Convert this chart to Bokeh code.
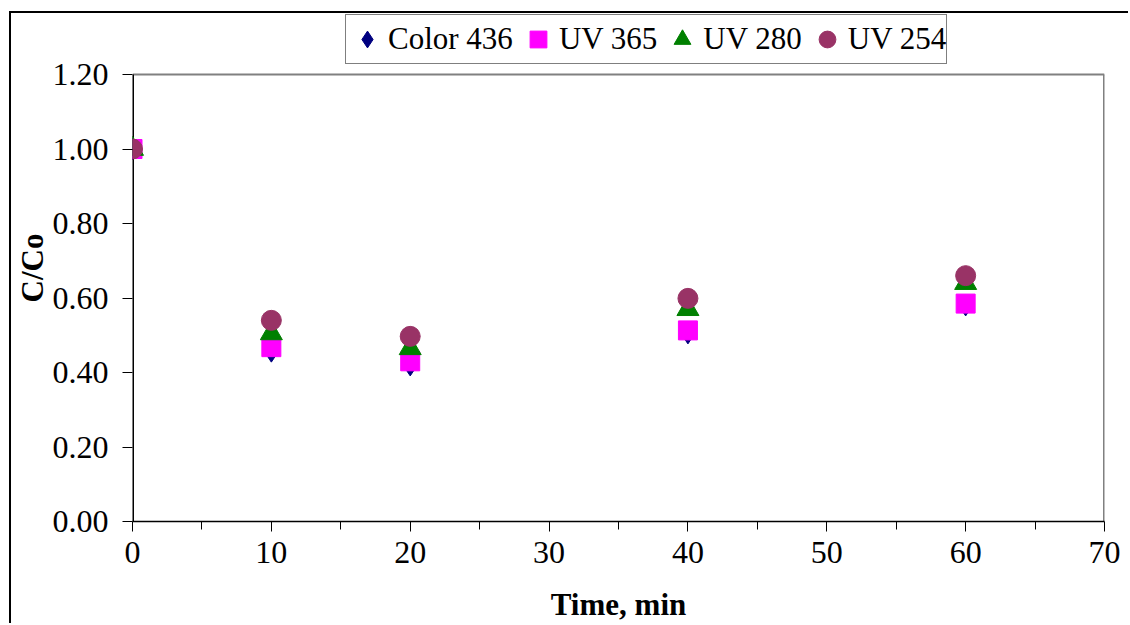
from bokeh.plotting import figure
from bokeh.models import Legend, LegendItem, FixedTicker, Range1d, NumeralTickFormatter
from bokeh.embed import file_html
from bokeh.resources import INLINE

time_min = [0, 10, 20, 40, 60]
color_436 = [1.00, 0.456, 0.419, 0.505, 0.58]
uv_365 = [1.00, 0.468, 0.43, 0.513, 0.585]
uv_280 = [1.00, 0.505, 0.465, 0.57, 0.64]
uv_254 = [1.00, 0.54, 0.497, 0.599, 0.66]
series_names = ["Color 436", "UV 365", "UV 280", "UV 254"]

x_ticks = [0, 10, 20, 30, 40, 50, 60, 70]
x_minor = [5, 15, 25, 35, 45, 55, 65]
y_ticks = [0.0, 0.2, 0.4, 0.6, 0.8, 1.0, 1.2]

FONT = "Liberation Serif"

# layout (pixels)
PLOT_H = 447      # height of the visible plot area (0 .. 1.2)
EXTRA_TOP = 60    # strip above the plot area that holds the legend
x_max = x_ticks[-1]
y_max = y_ticks[-1]
y_top = y_max * (PLOT_H + EXTRA_TOP) / PLOT_H

styles = [
    dict(marker="diamond", size=21, fill_color="#000080", line_color="#000080"),
    dict(marker="square", size=19, fill_color="#FF00FF", line_color="#FF00FF"),
    dict(marker="triangle", size=22, fill_color="#008000", line_color="#008000"),
    dict(marker="circle", size=20, fill_color="#993366", line_color="#993366"),
]

p = figure(width=1119, height=612, output_backend="svg", toolbar_location=None,
           x_range=Range1d(0, x_max), y_range=Range1d(0, y_top),
           min_border_left=121, min_border_right=26, min_border_top=1,
           min_border_bottom=104)
p.margin = (11, 0, 0, 9)
p.styles = {"border-top": "2px solid black", "border-left": "2px solid black"}

p.xgrid.visible = False
p.ygrid.visible = False
p.outline_line_color = None
p.background_fill_color = "white"
p.border_fill_color = "white"

# plot-area border: gray top and right, black left axis line
p.segment(x0=[0], y0=[y_max], x1=[x_max], y1=[y_max], line_color="#808080", line_width=2)
p.segment(x0=[x_max], y0=[0], x1=[x_max], y1=[y_max], line_color="#808080", line_width=3)
p.segment(x0=[0], y0=[0], x1=[0], y1=[y_max], line_color="black", line_width=3)

xa = p.xaxis[0]
xa.ticker = FixedTicker(ticks=x_ticks, minor_ticks=x_minor)
xa.axis_label = "Time, min"
xa.axis_label_text_font = FONT
xa.axis_label_text_font_style = "bold"
xa.axis_label_text_font_size = "31px"
xa.axis_label_text_color = "black"
xa.axis_label_standoff = 21
xa.major_label_text_font = FONT
xa.major_label_text_font_size = "32px"
xa.major_label_text_color = "black"
xa.major_label_standoff = 10
xa.major_tick_out = 10
xa.major_tick_in = 0
xa.minor_tick_out = 8
xa.minor_tick_in = 0
xa.axis_line_color = "black"
xa.axis_line_width = 1.5
xa.major_tick_line_color = "black"
xa.minor_tick_line_color = "black"

ya = p.yaxis[0]
ya.ticker = FixedTicker(ticks=y_ticks, minor_ticks=[])
ya.formatter = NumeralTickFormatter(format="0.00")
ya.axis_label = "C/Co"
ya.axis_label_text_font = FONT
ya.axis_label_text_font_style = "bold"
ya.axis_label_text_font_size = "31px"
ya.axis_label_text_color = "black"
ya.axis_label_standoff = 0
ya.major_label_text_font = FONT
ya.major_label_text_font_size = "32px"
ya.major_label_text_color = "black"
ya.major_label_standoff = 14
ya.major_tick_out = 10
ya.major_tick_in = 0
ya.axis_line_color = None
ya.major_tick_line_color = "black"

renderers = [p.scatter(time_min, ys, **st)
             for ys, st in zip([color_436, uv_365, uv_280, uv_254], styles)]

legend = Legend(items=[LegendItem(label=n, renderers=[r]) for n, r in zip(series_names, renderers)],
                location=(213, 457), orientation="horizontal")
legend.label_text_font = FONT
legend.label_text_font_size = "31px"
legend.label_text_color = "black"
legend.glyph_width = 42
legend.glyph_height = 48
legend.label_standoff = 0
legend.spacing = 4
legend.padding = 0
legend.margin = 0
legend.border_line_color = "black"
legend.border_line_width = 1
legend.background_fill_color = "white"
legend.background_fill_alpha = 1
p.add_layout(legend, "center")

open("out.html", "w").write(file_html(p, INLINE))
